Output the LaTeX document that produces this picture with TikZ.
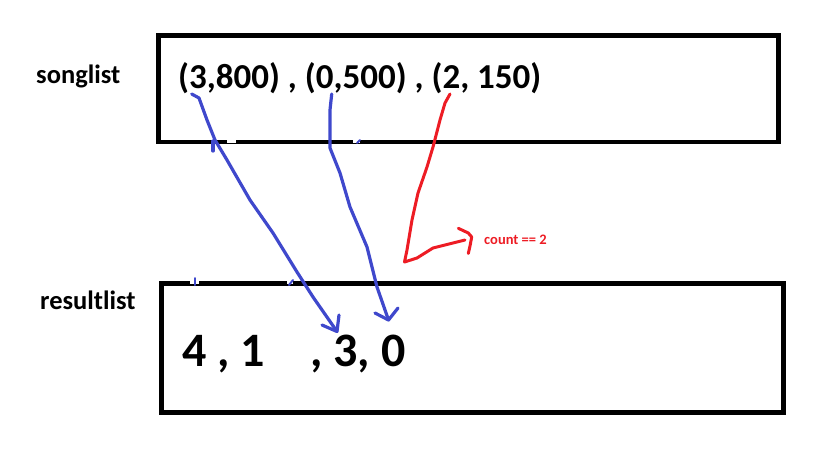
\documentclass[tikz,border=0pt]{standalone}
\usepackage{fontspec}
\setmainfont{Carlito}
\definecolor{pblue}{RGB}{63,72,204}
\definecolor{pred}{RGB}{237,28,36}
\begin{document}
\begin{tikzpicture}[x=1pt,y=-1pt,
  listbox/.style={draw=black,line width=4.7pt,inner sep=0pt,outer sep=0pt},
  lbl/.style={font=\fontsize{26.5}{30}\selectfont\bfseries,anchor=base west,inner sep=0pt},
  big/.style={font=\fontsize{35}{40}\selectfont\bfseries,anchor=base west,inner sep=0pt},
  huge/.style={font=\fontsize{48}{56}\selectfont\bfseries,anchor=base west,inner sep=0pt},
  note/.style={font=\fontsize{14.5}{17}\selectfont\bfseries,text=pred,anchor=base west,inner sep=0pt},
  bluepen/.style={draw=pblue,line width=3.2pt,line join=round,line cap=round},
  redpen/.style={draw=pred,line width=3pt,line join=round,line cap=round},
  gap/.style={draw=white,line width=3pt}]
\useasboundingbox (0,0) rectangle (837,461);
% boxes
\node[listbox,minimum width=619.6pt,minimum height=106.5pt] (songbox) at (468.5,88.75) {};
\node[listbox,minimum width=621.6pt,minimum height=129pt] (resbox) at (472.5,347.8) {};
% erasure gaps on box edges
\draw[gap] (227,141) -- (236,141);
\draw[gap] (353,141) -- (360,141);
\draw[gap] (190,282.5) -- (199,282.5);
\draw[gap] (287,282.5) -- (293,282.5);
% labels
\node[lbl] (songlbl) at (36,83.3) {songlist};
\node[lbl] (reslbl) at (40,309.3) {resultlist};
% texts
\node[big] (songs) at (178,88.3) {(3,800) , (0,500) , (2, 150)};
\node[huge] (resA) at (182,366) {4 , 1};
\node[huge] (resB) at (310,366) {, 3, 0};
\node[note] (cnt) at (484,244) {count == 2};
% blue arrow 1
\coordinate (a1s) at (191.7,94);
\coordinate (a1e) at (337,331.5);
\draw[bluepen] (a1s) -- (199,98) -- (207,120) -- (215,140) -- (227,160) -- (250,200)
  -- (273,233) -- (297,272) -- (313,297) -- (a1e);
\draw[bluepen] (322,325) -- (a1e) -- (339,315);
\draw[bluepen] (213,141) -- (213,151);
% blue arrow 2
\coordinate (a2s) at (331.7,94);
\coordinate (a2e) at (388.5,320);
\draw[bluepen] (a2s) -- (330,110) -- (330,148) -- (340,173) -- (350,207) -- (367,247)
  -- (377,287) -- (a2e);
\draw[bluepen] (375,313) -- (a2e) -- (398,308);
% small blue ticks
\draw[bluepen,line width=2pt] (195,278) -- (195,285);
\draw[bluepen,line width=2pt] (293,280) -- (289,285);
\draw[bluepen,line width=2pt] (357,143) -- (360,140);
% red line
\coordinate (rs) at (450,94);
\coordinate (rc) at (404.5,262);
\coordinate (re) at (465,240);
\draw[redpen] (rs) -- (445,103) -- (440,120) -- (433,147) -- (427,167) -- (418,193)
  -- (412,220) -- (407,250) -- (rc) -- (417,258) -- (433,248) -- (453,243) -- (re);
\draw[redpen] (458.3,228.3) -- (468.3,233) -- (471.7,237) -- (470,246) -- (468.3,253.5);
\end{tikzpicture}
\end{document}
